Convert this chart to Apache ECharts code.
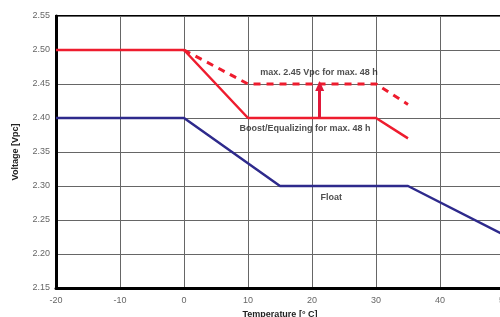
<!DOCTYPE html>
<html><head><meta charset="utf-8">
<script src="https://cdn.jsdelivr.net/npm/echarts@6/dist/echarts.min.js"></script>
<style>html,body{margin:0;padding:0;background:#fff}#c{width:500px;height:317px}</style>
</head><body><div id="c"></div>
<script>
const boostLine = [[-20,2.50],[0,2.50],[10,2.40],[30,2.40],[35,2.37]];
const maxLine = [[0,2.50],[10,2.45],[30,2.45],[35,2.42]];
const floatLine = [[-20,2.40],[0,2.40],[15,2.30],[35,2.30],[50,2.228]];
const arrowFrom = [21.2,2.40];
const arrowTo = [21.2,2.447];
const notes = [
  {text:'max. 2.45 Vpc for max. 48 h', pos:[21.1,2.467]},
  {text:'Boost/Equalizing for max. 48 h', pos:[18.9,2.385]},
  {text:'Float', pos:[23,2.283]}
];
const xTicks = {min:-20, max:50, step:10};
const yTicks = {min:2.15, max:2.55, step:0.05};

const chart = echarts.init(document.getElementById('c'));
chart.setOption({
  animation:false,
  grid:{left:56,width:448,top:16,height:272,outerBoundsMode:'none',containLabel:false,
    show:true,borderColor:'#000',borderWidth:2},
  xAxis:{type:'value',min:xTicks.min,max:xTicks.max,interval:xTicks.step,
    name:'Temperature [° C]',nameLocation:'middle',nameGap:20,
    nameTextStyle:{fontFamily:'Liberation Sans',fontWeight:'bold',fontSize:9,color:'#222'},
    axisLine:{onZero:false,lineStyle:{color:'#000',width:3}},axisTick:{show:false},
    axisLabel:{fontFamily:'Liberation Sans',fontSize:9,color:'#666',margin:8},
    splitLine:{lineStyle:{color:'#666',width:1}}},
  yAxis:{type:'value',min:yTicks.min,max:yTicks.max,interval:yTicks.step,
    name:'Voltage [Vpc]',nameLocation:'middle',nameGap:36,
    nameTextStyle:{fontFamily:'Liberation Sans',fontWeight:'bold',fontSize:9,color:'#222'},
    axisLine:{show:true,onZero:false,lineStyle:{color:'#000',width:3}},axisTick:{show:false},
    axisLabel:{fontFamily:'Liberation Sans',fontSize:9,color:'#666',margin:6,formatter:v=>v.toFixed(2)},
    splitLine:{lineStyle:{color:'#666',width:1}}},
  series:[
    {type:'line',data:floatLine,symbol:'none',lineStyle:{color:'#2e2a8c',width:2.5}},
    {type:'line',data:boostLine,symbol:'none',lineStyle:{color:'#ee1c2e',width:2.5},
      markLine:{silent:true,symbol:['none','triangle'],symbolSize:[9,10],
        lineStyle:{color:'#e0193a',width:3,type:'solid'},label:{show:false},
        data:[[{coord:arrowFrom},{coord:arrowTo}]]}},
    {type:'line',data:maxLine,symbol:'none',lineStyle:{color:'#ee1c2e',width:3,type:[7,6]}},
    {type:'scatter',symbolSize:0,data:notes.map(n=>({value:n.pos,name:n.text})),
      label:{show:true,position:'inside',formatter:p=>p.name,fontFamily:'Liberation Sans',
        fontSize:9,fontWeight:'bold',color:'#222'}}
  ]
});
</script></body></html>
